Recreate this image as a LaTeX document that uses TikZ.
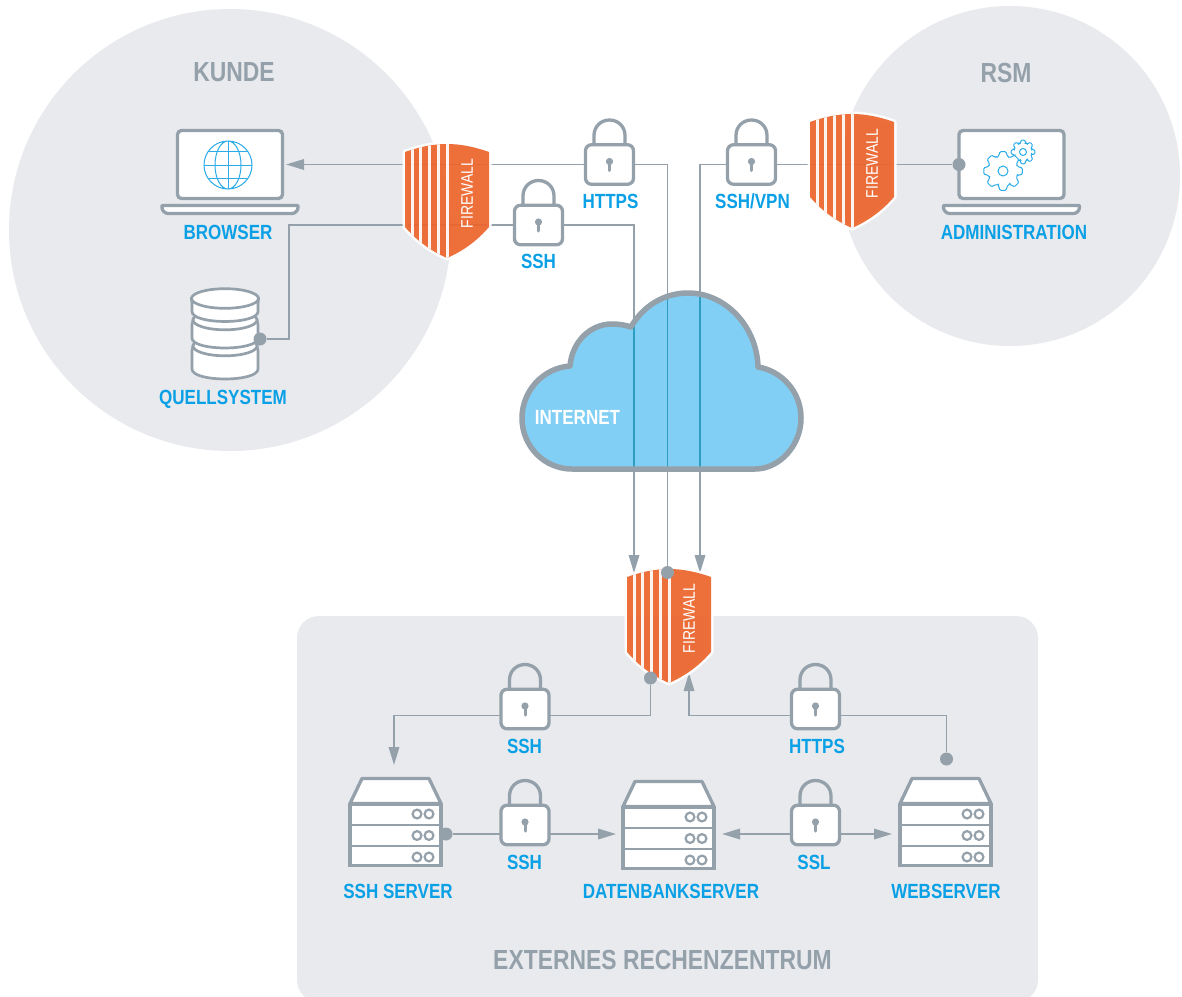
\documentclass[tikz,border=0pt]{standalone}
\usepackage{fontspec}
\setmainfont[FakeStretch=0.83]{Liberation Sans}
\usetikzlibrary{arrows.meta,calc}
\definecolor{linegray}{HTML}{95A1AA}
\definecolor{zonegray}{HTML}{E8EAEE}
\definecolor{fworange}{HTML}{EC642B}
\definecolor{labelblue}{HTML}{0AA0E6}
\definecolor{cloudblue}{HTML}{82CFF5}
\definecolor{lineteal}{HTML}{2E9DBF}
\definecolor{iconblue}{HTML}{2BACE8}
\pgfdeclarelayer{zones}
\pgfdeclarelayer{conn}
\pgfdeclarelayer{cloudlayer}
\pgfdeclarelayer{shieldlayer}
\pgfsetlayers{zones,conn,cloudlayer,shieldlayer,main}
\tikzset{
  x=1pt,y=-1pt,
  conn/.style={draw=linegray,line width=1.8pt},
  tipped/.style={conn,-{Triangle[length=18pt,width=10.5pt]}},
  both tipped/.style={conn,{Triangle[length=18pt,width=10.5pt]}-{Triangle[length=18pt,width=10.5pt]}},
  icon/.style={draw=linegray,line width=3.3pt,line join=round},
  lockbody/.style={draw=linegray,fill=white,line width=3.3pt,rounded corners=6pt,minimum width=48pt,minimum height=39.5pt,inner sep=0pt},
  screenbox/.style={draw=linegray,fill=white,line width=3.3pt,rounded corners=4pt,minimum width=105pt,minimum height=68pt,inner sep=0pt},
  rackbox/.style={draw=linegray,fill=white,line width=3.3pt,minimum width=91pt,inner sep=0pt},
  dotnode/.style={circle,fill=linegray,minimum size=13pt,inner sep=0pt},
  itemlabel/.style={text=labelblue,font=\fontsize{20.5}{20.5}\selectfont\bfseries,inner sep=0pt},
  zonelabel/.style={text=linegray,font=\fontsize{27.6}{27.6}\selectfont\bfseries,inner sep=0pt},
  wall/.style={text=white,font=\fontsize{16.8}{16.8}\selectfont,rotate=90,inner sep=0pt},
  gearline/.style={draw=iconblue,line width=1pt,fill=white,rounded corners=1pt},
}
\newcommand{\lockicon}[3]{%
  \begin{scope}[shift={(#2,#3)}]
    \draw[icon] (-15.5,-20) -- (-15.5,-29) .. controls (-15.5,-38) and (-8.5,-44.5) .. (0,-44.5) .. controls (8.5,-44.5) and (15.5,-38) .. (15.5,-29) -- (15.5,-20);
    \node[lockbody] (#1) at (0,0) {};
    \fill[linegray] (0,-3) circle (3.6);
    \draw[linegray,line width=3pt,line cap=round] (0,-3) -- (0,6);
  \end{scope}}
\newcommand{\laptopicon}[3]{%
  \begin{scope}[shift={(#2,#3)}]
    \node[screenbox] (#1) at (0,0) {};
    \draw[icon,fill=white] (-68,41) -- (-68,43) .. controls (-68,46) and (-65,49) .. (-62,49) -- (62,49) .. controls (65,49) and (68,46) .. (68,43) -- (68,41) -- cycle;
  \end{scope}}
\newcommand{\servericon}[3]{%
  \begin{scope}[shift={(#2,#3)}]
    \draw[icon,fill=white] (-33.5,-42.5) -- (33.5,-42.5) -- (45.5,-17.5) -- (-45.5,-17.5) -- cycle;
    \node[rackbox,minimum height=61pt] (#1) at (0,14) {};
    \draw[linegray,line width=2.8pt] (-45,4) -- (45,4) (-45,25) -- (45,25);
    \foreach \ry in {-7,14.5,36}{
      \draw[linegray,line width=2.2pt] (21.5,\ry) circle (4.4) (33.5,\ry) circle (4.4);
    }
  \end{scope}}
\newcommand{\shieldshape}{(0,8) .. controls (14,3) and (28,0) .. (42,0) .. controls (56,0) and (70,3) .. (84,8) -- (84,83) .. controls (72,97) and (58,107) .. (42,114) .. controls (26,107) and (12,97) .. (0,83) -- cycle}
\newcommand{\shieldicon}[3]{%
  \begin{pgfonlayer}{shieldlayer}
  \begin{scope}[shift={(#2,#3)}]
    \draw[white,line width=5pt,draw opacity=.95,line join=round] \shieldshape;
    \fill[fworange,fill opacity=.92] \shieldshape;
    \begin{scope}
      \clip \shieldshape;
      \foreach \sx in {7,15.7,24.2,33.2,42.5}{
        \fill[white,fill opacity=.92] (\sx-1.5,-2) rectangle (\sx+1.5,116);
      }
    \end{scope}
    \node[inner sep=0pt,minimum width=84pt,minimum height=114pt] (#1) at (42,57) {};
    \node[wall] (#1t) at (62,49.5) {FIREWALL};
  \end{scope}
  \end{pgfonlayer}}
\newcommand{\cloudshape}{(572,469) .. controls (544,469) and (522,446) .. (522,418) .. controls (522,391) and (543,368) .. (570,366) .. controls (572,342) and (590,324) .. (612,324) .. controls (619,324) and (625,325) .. (631,327) .. controls (643,306) and (664,293) .. (688,293) .. controls (726,293) and (757,327) .. (758,367) .. controls (782,371) and (801,392) .. (801,418) .. controls (801,446) and (779,469) .. (755,469) -- cycle}
\newcommand{\gearpath}[4]{%
  \draw[gearline] (#1,#2) ++(-18:#4) \foreach \ga in {0,45,...,315}{ -- ++(0,0) -- ($(#1,#2)+(\ga-18:#4)$) -- ($(#1,#2)+(\ga-9:#3)$) -- ($(#1,#2)+(\ga+9:#3)$) -- ($(#1,#2)+(\ga+18:#4)$)} -- cycle;}
\begin{document}
\begin{tikzpicture}
\clip (0,0) rectangle (1182,996);
\begin{pgfonlayer}{zones}
  \fill[white] (0,0) rectangle (1182,996);
  \fill[zonegray] (230,230) circle (221);
  \fill[zonegray] (1010,176) circle (170);
  \fill[zonegray,rounded corners=22pt] (297,616) rectangle (1038,1002);
\end{pgfonlayer}
% zone labels
\node[zonelabel] (kunde) at (234,72.5) {KUNDE};
\node[zonelabel] (rsm) at (1006,72.5) {RSM};
\node[zonelabel] (extern) at (662.5,960) {EXTERNES RECHENZENTRUM};
% firewalls
\shieldicon{fwa}{405}{144}
\shieldicon{fwb}{810}{114}
\shieldicon{fwc}{627}{569}
% laptops
\laptopicon{browser}{230}{164.5}
\laptopicon{admin}{1011.5}{164.5}
% globe
\begin{scope}[draw=iconblue,line width=1pt]
  \draw (228,165) circle (24) (228,165) ellipse (13 and 24);
  \draw (228,141) -- (228,189) (204,165) -- (252,165);
  \draw (208,151.5) -- (248,151.5) (208,178.5) -- (248,178.5);
\end{scope}
% gears
\gearpath{1023}{152}{12}{9}
\draw[iconblue,line width=1pt] (1023,152) circle (3.5);
\gearpath{1003}{171}{19.5}{15}
\draw[iconblue,line width=1pt] (1003,171) circle (5);
% data source
\node[inner sep=0pt,minimum width=68pt,minimum height=90pt] (quell) at (225,334) {};
\foreach \ct/\cb/\rx in {346/369/32,320/338/32,298.5/311.5/33.5}{
  \draw[draw=linegray,line width=2.7pt,fill=white] (225-\rx,\ct) .. controls (225-33,\ct+2) and (192,\ct+3) .. (192,\ct+5) -- (192,\cb) .. controls (192,\cb+13.3) and (258,\cb+13.3) .. (258,\cb) -- (258,\ct+5) .. controls (258,\ct+3) and (225+33,\ct+2) .. (225+\rx,\ct) -- cycle;
  \draw[draw=linegray,line width=2.7pt,fill=white] (225,\ct) ellipse (\rx pt and 9.8pt);
}
% locks
\lockicon{lockhttps}{609.5}{164.5}
\lockicon{lockssh}{538.5}{225}
\lockicon{lockvpn}{751.5}{164.5}
\lockicon{locksshb}{525}{709}
\lockicon{lockhttpsb}{815.5}{709}
\lockicon{locksshc}{525}{825}
\lockicon{lockssl}{815.5}{825}
% servers
\servericon{sshsrv}{395.5}{821}
\servericon{dbsrv}{668.5}{824}
\servericon{websrv}{945.5}{821}
% dots
\node[dotnode] (ddb) at (260,339) {};
\node[dotnode] (dadm) at (959,164.5) {};
\node[dotnode] (dfwtop) at (667.5,572.5) {};
\node[dotnode] (dfwbot) at (650.5,678) {};
\node[dotnode] (dweb) at (946.5,759) {};
\node[dotnode] (dssh) at (446,834) {};
% free ends
\coordinate (tipa) at (634,573);
\coordinate (tipb) at (700,573);
\coordinate (tipc) at (394,765);
\coordinate (tipd) at (689,673);
\coordinate (tipe) at (616,834);
\coordinate (tipf) at (722,834);
\coordinate (tipg) at (892,834);
\coordinate (tiph) at (286,164.5);
\coordinate (turnq) at (289,225);
\coordinate (turnl) at (394,715.5);
\coordinate (turnr) at (689,715.5);
% labels
\node[itemlabel] (lbrowser) at (228,232) {BROWSER};
\node[itemlabel] (lquell) at (223,399) {QUELLSYSTEM};
\node[itemlabel] (lhttps) at (610.5,201.5) {HTTPS};
\node[itemlabel] (lssh) at (538.5,261.5) {SSH};
\node[itemlabel] (lvpn) at (752.5,201.5) {SSH/VPN};
\node[itemlabel] (ladmin) at (1014,232) {ADMINISTRATION};
\node[itemlabel] (lsshb) at (524.5,746) {SSH};
\node[itemlabel] (lhttpsb) at (817,746) {HTTPS};
\node[itemlabel] (lsshc) at (524.5,862) {SSH};
\node[itemlabel] (lssl) at (814,862) {SSL};
\node[itemlabel] (lsshsrv) at (398,891) {SSH SERVER};
\node[itemlabel] (ldbsrv) at (671,891) {DATENBANKSERVER};
\node[itemlabel] (lwebsrv) at (946,891) {WEBSERVER};
% connectors
\begin{pgfonlayer}{conn}
  \draw[tipped] (lockhttps) -- (tiph);
  \draw[conn] (dfwtop) |- (lockhttps);
  \draw[conn] (ddb) -| (turnq) -- (lockssh);
  \draw[tipped] (lockssh) -| (tipa);
  \draw[tipped] (lockvpn) -| (tipb);
  \draw[conn] (lockvpn) -- (dadm);
  \draw[tipped] (dfwbot) |- (turnl) -- (tipc);
  \draw[tipped] (dweb) |- (turnr) -- (tipd);
  \draw[tipped] (dssh) -- (tipe);
  \draw[both tipped] (tipf) -- (tipg);
\end{pgfonlayer}
% cloud
\begin{pgfonlayer}{cloudlayer}
  \fill[cloudblue] \cloudshape;
  \begin{scope}
    \clip \cloudshape;
    \draw[lineteal,line width=1.8pt] (tipa) -- (tipa |- lockssh);
    \draw[lineteal,line width=1.8pt] (dfwtop) -- (dfwtop |- lockhttps);
    \draw[lineteal,line width=1.8pt] (tipb) -- (tipb |- lockvpn);
  \end{scope}
  \draw[linegray,line width=5.5pt,line join=round] \cloudshape;
  \node[text=white,font=\fontsize{20.5}{20.5}\selectfont\bfseries,inner sep=0pt] (inet) at (577.5,417) {INTERNET};
\end{pgfonlayer}
\end{tikzpicture}
\end{document}
